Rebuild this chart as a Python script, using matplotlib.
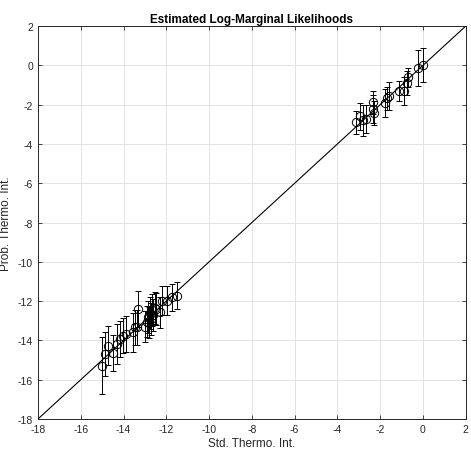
import matplotlib
matplotlib.use("Agg")
import matplotlib.pyplot as plt
import numpy as np

plt.rcParams['font.family'] = ['Liberation Sans', 'DejaVu Sans']
plt.rcParams['axes.unicode_minus'] = False

# Upper cluster
std_hi = [-3.14, -2.92, -2.80, -2.67, -2.33, -2.33, -2.27, -1.79, -1.66, -1.60, -1.14, -0.88, -0.76, -0.72, -0.21, 0.02]
prob_hi = [-2.90, -2.60, -2.80, -2.73, -1.88, -2.22, -2.43, -1.92, -1.68, -1.55, -1.29, -1.29, -0.90, -0.61, -0.14, 0.02]
err_hi = [0.6, 0.7, 0.8, 0.7, 0.6, 0.7, 0.6, 0.7, 0.6, 0.7, 0.5, 0.7, 0.6, 0.5, 0.9, 0.85]

# Lower cluster
std_lo = [-15.02, -14.87, -14.71, -14.48, -14.32, -14.17, -14.01, -13.89, -13.55, -13.39, -13.47, -13.31,
          -13.00, -12.92, -12.85, -12.80, -12.75, -12.70, -12.65, -12.60, -12.55, -12.49, -12.30, -12.22,
          -11.99, -11.75, -11.52]
prob_lo = [-15.29, -14.69, -14.27, -14.64, -14.18, -13.93, -13.76, -13.67, -13.59, -13.33, -13.33, -12.40,
           -13.30, -13.05, -12.80, -13.10, -12.60, -12.90, -12.45, -12.70, -12.35, -12.40, -12.57, -11.98,
           -11.98, -11.81, -11.72]
err_lo = [1.45, 1.1, 1.0, 0.9, 1.0, 0.9, 0.9, 0.9, 1.0, 0.9, 0.9, 0.9,
          0.8, 0.8, 0.8, 0.8, 0.8, 0.8, 0.8, 0.8, 0.8, 0.8, 0.8, 0.75,
          0.75, 0.7, 0.7]

x_ticks = [-18, -16, -14, -12, -10, -8, -6, -4, -2, 0, 2]
y_ticks = [-18, -16, -14, -12, -10, -8, -6, -4, -2, 0, 2]

fig = plt.figure(figsize=(4.71, 4.60), dpi=100)
ax = fig.add_axes([0.0807, 0.087, 0.908, 0.854])

ax.plot([-18, 2], [-18, 2], color='black', lw=0.8, zorder=2)
for xs, ys, es in [(std_lo, prob_lo, err_lo), (std_hi, prob_hi, err_hi)]:
    ax.errorbar(xs, ys, yerr=es, fmt='o', mfc='none', mec='black', color='black',
                ms=6, mew=0.7, elinewidth=0.7, capsize=2.5, capthick=0.7, zorder=3)

ax.set_xlim(-18, 2)
ax.set_ylim(-18, 2)
ax.set_xticks(x_ticks)
ax.set_yticks(y_ticks)
ax.grid(True, color='#e3e3e3', lw=0.7)
ax.set_axisbelow(True)
ax.tick_params(direction='in', top=True, right=True, labelsize=7.5, length=3, width=0.6, colors='#262626')
for s in ax.spines.values():
    s.set_linewidth(0.7)
    s.set_color('#262626')
ax.set_title('Estimated Log-Marginal Likelihoods', fontsize=8.5, fontweight='bold', pad=3)
ax.set_xlabel('Std. Thermo. Int.', fontsize=8.5, color='#262626', labelpad=2)
ax.set_ylabel('Prob. Thermo. Int.', fontsize=8.5, color='#262626')
ax.yaxis.set_label_coords(-0.060, 0.5)

fig.savefig('out.png', dpi=100)
